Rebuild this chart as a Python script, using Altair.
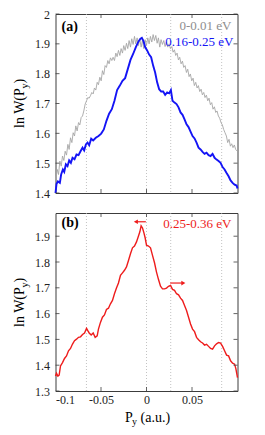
import altair as alt
import pandas as pd

FONT = "Liberation Serif, Times New Roman, serif"
W = 182
H_A = 179
H_B = 178

x_domain = [-0.1, 0.1]
x_tick_labels = [-0.1, -0.05, 0, 0.05]
x_frame_ticks = [-0.05, 0, 0.05]
y_domain_a = [1.4, 2.0]
y_ticks_a = [1.4, 1.5, 1.6, 1.7, 1.8, 1.9, 2.0]
y_domain_b = [1.3, 1.99]
y_ticks_b = [1.3, 1.4, 1.5, 1.6, 1.7, 1.8, 1.9]
guide_lines = [-0.066, 0.0, 0.0266, 0.0826]

gray_points = [
    (-0.0996, 1.445), (-0.0981, 1.479), (-0.0967, 1.462), (-0.0952, 1.507), (-0.0937, 1.490),
    (-0.0923, 1.524), (-0.0908, 1.509), (-0.0894, 1.540), (-0.0879, 1.527), (-0.0864, 1.563),
    (-0.0850, 1.546), (-0.0835, 1.585), (-0.0820, 1.569), (-0.0806, 1.602), (-0.0791, 1.591),
    (-0.0777, 1.625), (-0.0762, 1.608), (-0.0747, 1.636), (-0.0733, 1.628), (-0.0718, 1.653),
    (-0.0703, 1.658), (-0.0689, 1.675), (-0.0674, 1.698), (-0.0659, 1.709), (-0.0645, 1.720),
    (-0.0630, 1.718), (-0.0616, 1.726), (-0.0601, 1.737), (-0.0586, 1.732), (-0.0572, 1.752),
    (-0.0557, 1.745), (-0.0542, 1.771), (-0.0528, 1.763), (-0.0513, 1.788), (-0.0498, 1.776),
    (-0.0484, 1.810), (-0.0469, 1.797), (-0.0455, 1.827), (-0.0440, 1.821), (-0.0425, 1.844),
    (-0.0411, 1.833), (-0.0396, 1.853), (-0.0381, 1.844), (-0.0367, 1.855), (-0.0352, 1.844),
    (-0.0337, 1.869), (-0.0323, 1.857), (-0.0308, 1.878), (-0.0293, 1.861), (-0.0279, 1.884),
    (-0.0264, 1.869), (-0.0250, 1.894), (-0.0235, 1.878), (-0.0220, 1.902), (-0.0206, 1.884),
    (-0.0191, 1.911), (-0.0176, 1.889), (-0.0162, 1.917), (-0.0147, 1.898), (-0.0132, 1.925),
    (-0.0118, 1.900), (-0.0103, 1.920), (-0.0089, 1.894), (-0.0074, 1.917), (-0.0059, 1.889),
    (-0.0045, 1.911), (-0.0030, 1.884), (-0.0015, 1.914), (-0.0001, 1.894), (0.0014, 1.920),
    (0.0029, 1.900), (0.0043, 1.925), (0.0058, 1.906), (0.0073, 1.931), (0.0087, 1.911),
    (0.0102, 1.928), (0.0117, 1.902), (0.0131, 1.920), (0.0146, 1.889), (0.0160, 1.914),
    (0.0175, 1.898), (0.0190, 1.911), (0.0204, 1.891), (0.0219, 1.906), (0.0234, 1.889),
    (0.0248, 1.900), (0.0263, 1.884), (0.0278, 1.891), (0.0292, 1.872), (0.0307, 1.880),
    (0.0321, 1.861), (0.0336, 1.869), (0.0351, 1.846), (0.0365, 1.855), (0.0380, 1.833),
    (0.0395, 1.842), (0.0409, 1.821), (0.0424, 1.827), (0.0439, 1.804), (0.0453, 1.815),
    (0.0468, 1.790), (0.0482, 1.799), (0.0497, 1.776), (0.0512, 1.785), (0.0526, 1.760),
    (0.0541, 1.771), (0.0556, 1.752), (0.0570, 1.760), (0.0585, 1.740), (0.0600, 1.748),
    (0.0614, 1.729), (0.0629, 1.737), (0.0643, 1.720), (0.0658, 1.728), (0.0673, 1.709),
    (0.0687, 1.718), (0.0702, 1.696), (0.0717, 1.703), (0.0731, 1.681), (0.0746, 1.689),
    (0.0761, 1.670), (0.0775, 1.675), (0.0790, 1.658), (0.0804, 1.651), (0.0819, 1.636),
    (0.0834, 1.628), (0.0848, 1.613), (0.0863, 1.602), (0.0878, 1.591), (0.0892, 1.569),
    (0.0907, 1.580), (0.0922, 1.557), (0.0936, 1.565), (0.0951, 1.552), (0.0965, 1.561),
    (0.0980, 1.546), (0.0998, 1.540),
]

blue_points = [
    (-0.1000, 1.400), (-0.0989, 1.430), (-0.0974, 1.439), (-0.0952, 1.434), (-0.0938, 1.462),
    (-0.0919, 1.479), (-0.0904, 1.471), (-0.0886, 1.496), (-0.0868, 1.490), (-0.0850, 1.509),
    (-0.0831, 1.501), (-0.0813, 1.518), (-0.0791, 1.513), (-0.0769, 1.529), (-0.0747, 1.527),
    (-0.0725, 1.540), (-0.0703, 1.552), (-0.0685, 1.543), (-0.0666, 1.563), (-0.0648, 1.569),
    (-0.0630, 1.560), (-0.0608, 1.582), (-0.0586, 1.576), (-0.0557, 1.585), (-0.0527, 1.591),
    (-0.0498, 1.599), (-0.0469, 1.613), (-0.0440, 1.642), (-0.0411, 1.666), (-0.0381, 1.681),
    (-0.0352, 1.709), (-0.0323, 1.745), (-0.0293, 1.760), (-0.0264, 1.776), (-0.0235, 1.785),
    (-0.0205, 1.816), (-0.0176, 1.846), (-0.0147, 1.866), (-0.0117, 1.889), (-0.0088, 1.908),
    (-0.0066, 1.917), (-0.0051, 1.920), (-0.0033, 1.909), (-0.0015, 1.889), (0.0007, 1.878),
    (0.0029, 1.864), (0.0051, 1.855), (0.0073, 1.827), (0.0095, 1.804), (0.0117, 1.771),
    (0.0139, 1.748), (0.0161, 1.740), (0.0183, 1.740), (0.0205, 1.729), (0.0227, 1.737),
    (0.0249, 1.734), (0.0268, 1.745), (0.0286, 1.709), (0.0308, 1.703), (0.0330, 1.698),
    (0.0352, 1.687), (0.0374, 1.670), (0.0396, 1.662), (0.0418, 1.647), (0.0440, 1.630),
    (0.0462, 1.621), (0.0484, 1.606), (0.0506, 1.591), (0.0528, 1.583), (0.0550, 1.569),
    (0.0572, 1.552), (0.0594, 1.546), (0.0616, 1.538), (0.0638, 1.531), (0.0660, 1.535),
    (0.0682, 1.527), (0.0704, 1.524), (0.0726, 1.531), (0.0748, 1.518), (0.0770, 1.512),
    (0.0792, 1.507), (0.0814, 1.501), (0.0836, 1.487), (0.0858, 1.479), (0.0880, 1.467),
    (0.0902, 1.456), (0.0924, 1.442), (0.0946, 1.434), (0.0968, 1.428), (0.0990, 1.425),
    (0.1000, 1.415),
]

red_points = [
    (-0.1000, 1.358), (-0.0989, 1.369), (-0.0974, 1.358), (-0.0960, 1.362), (-0.0945, 1.397),
    (-0.0923, 1.410), (-0.0901, 1.426), (-0.0879, 1.436), (-0.0857, 1.456), (-0.0835, 1.465),
    (-0.0813, 1.482), (-0.0791, 1.495), (-0.0769, 1.501), (-0.0747, 1.508), (-0.0725, 1.510),
    (-0.0703, 1.519), (-0.0681, 1.525), (-0.0659, 1.543), (-0.0645, 1.534), (-0.0630, 1.525),
    (-0.0608, 1.517), (-0.0586, 1.525), (-0.0564, 1.508), (-0.0542, 1.514), (-0.0528, 1.540),
    (-0.0506, 1.566), (-0.0484, 1.586), (-0.0462, 1.595), (-0.0440, 1.616), (-0.0418, 1.621),
    (-0.0396, 1.638), (-0.0374, 1.651), (-0.0352, 1.677), (-0.0330, 1.699), (-0.0308, 1.719),
    (-0.0286, 1.748), (-0.0264, 1.758), (-0.0242, 1.768), (-0.0220, 1.781), (-0.0198, 1.806),
    (-0.0176, 1.832), (-0.0154, 1.855), (-0.0132, 1.862), (-0.0110, 1.878), (-0.0088, 1.901),
    (-0.0073, 1.917), (-0.0059, 1.940), (-0.0044, 1.932), (-0.0029, 1.914), (-0.0015, 1.894),
    (0.0000, 1.865), (0.0022, 1.862), (0.0044, 1.855), (0.0066, 1.826), (0.0088, 1.797),
    (0.0110, 1.761), (0.0132, 1.732), (0.0154, 1.706), (0.0176, 1.696), (0.0198, 1.696),
    (0.0220, 1.699), (0.0242, 1.706), (0.0264, 1.709), (0.0286, 1.694), (0.0308, 1.690),
    (0.0330, 1.677), (0.0352, 1.673), (0.0374, 1.660), (0.0396, 1.651), (0.0418, 1.631),
    (0.0440, 1.612), (0.0462, 1.586), (0.0484, 1.560), (0.0506, 1.540), (0.0528, 1.530),
    (0.0550, 1.508), (0.0572, 1.499), (0.0594, 1.491), (0.0616, 1.486), (0.0638, 1.478),
    (0.0660, 1.481), (0.0682, 1.473), (0.0704, 1.465), (0.0726, 1.462), (0.0748, 1.475),
    (0.0770, 1.483), (0.0792, 1.488), (0.0814, 1.486), (0.0836, 1.473), (0.0858, 1.456),
    (0.0880, 1.439), (0.0902, 1.436), (0.0924, 1.417), (0.0946, 1.408), (0.0968, 1.404),
    (0.0982, 1.387), (0.1000, 1.352),
]

# arrows in panel (b): start x, end x, y, direction
arrow_start = [-0.0007, 0.0261]
arrow_end = [-0.0117, 0.0405]
arrow_y = [1.956, 1.7185]
arrow_dir = ["l", "r"]

GRAY = "#a6a6a6"
BLUE = "#1414f5"
RED = "#ee1c1c"
FRAME = "#3c3c3c"

xs = alt.Scale(domain=x_domain, nice=False, zero=False)
LABEL_EXPR = "replace(format(datum.value, '~g'), '\u2212', '-')"


def text(t, x, y, size=13, color="black", align="left", angle=0, weight="normal"):
    return alt.Chart(pd.DataFrame({"t": [t]})).mark_text(
        align=align, baseline="middle", fontSize=size, font=FONT, color=color,
        angle=angle, fontWeight=weight
    ).encode(x=alt.value(x), y=alt.value(y), text="t:N")


def ylabel_layers():
    return [
        text("ln W(P", -36, 114, size=14, angle=270),
        text("y", -31, 74.5, size=10, angle=270),
        text(")", -36, 69.5, size=14, angle=270),
    ]


def panel(series, y_domain, y_ticks, H, show_x_labels, extra):
    ys = alt.Scale(domain=y_domain, nice=False, zero=False)
    xaxis = alt.Axis(values=x_tick_labels, labelExpr=LABEL_EXPR, ticks=False, domain=False,
                     grid=False, title=None, labels=show_x_labels, labelPadding=3,
                     labelFont=FONT, labelFontSize=12, labelColor="#222")
    yaxis = alt.Axis(values=y_ticks, labelExpr=LABEL_EXPR, ticks=False, domain=False,
                     grid=False, title=None, labelPadding=6,
                     labelFont=FONT, labelFontSize=12, labelColor="#222")

    guides = alt.Chart(pd.DataFrame({"g": guide_lines})).mark_rule(
        color="#b4b4b4", strokeDash=[1, 2], strokeWidth=0.8
    ).encode(x=alt.X("g:Q", scale=xs, axis=xaxis))

    layers = [guides]
    for pts, color, sw in series:
        df = pd.DataFrame(pts, columns=["x", "v"])
        layers.append(
            alt.Chart(df).mark_line(color=color, strokeWidth=sw).encode(
                x=alt.X("x:Q", scale=xs, axis=xaxis),
                y=alt.Y("v:Q", scale=ys, axis=yaxis),
            )
        )

    ydf = pd.DataFrame({"t": y_ticks})
    xdf = pd.DataFrame({"t": x_frame_ticks})
    tk = dict(color=FRAME, strokeWidth=0.8)
    layers += [
        alt.Chart(ydf).mark_rule(**tk).encode(y=alt.Y("t:Q", scale=ys, axis=yaxis), x=alt.value(0), x2=alt.value(4)),
        alt.Chart(ydf).mark_rule(**tk).encode(y=alt.Y("t:Q", scale=ys, axis=yaxis), x=alt.value(W - 4), x2=alt.value(W)),
        alt.Chart(xdf).mark_rule(**tk).encode(x=alt.X("t:Q", scale=xs, axis=xaxis), y=alt.value(0), y2=alt.value(4)),
        alt.Chart(xdf).mark_rule(**tk).encode(x=alt.X("t:Q", scale=xs, axis=xaxis), y=alt.value(H - 4), y2=alt.value(H)),
    ]
    layers += ylabel_layers()
    layers += extra(xs, ys, xaxis, yaxis)
    return alt.layer(*layers).properties(width=W, height=H)


def extra_a(xs, ys, xaxis, yaxis):
    return [
        text("(a)", 6, 12.5, size=14, weight="bold"),
        text("0-0.01 eV", 176, 11.5, size=13, color="#8e8e8e", align="right"),
        text("0.16-0.25 eV", 178, 28, size=13, color=BLUE, align="right"),
    ]


def extra_b(xs, ys, xaxis, yaxis):
    adf = pd.DataFrame({"x": arrow_start, "x2": arrow_end, "y": arrow_y, "d": arrow_dir})
    rules = alt.Chart(adf).mark_rule(color=RED, strokeWidth=1.2).encode(
        x=alt.X("x:Q", scale=xs, axis=xaxis), x2="x2:Q",
        y=alt.Y("y:Q", scale=ys, axis=yaxis),
    )
    heads = alt.Chart(adf).mark_point(filled=True, color=RED, size=22, opacity=1).encode(
        x=alt.X("x2:Q", scale=xs, axis=xaxis),
        y=alt.Y("y:Q", scale=ys, axis=yaxis),
        shape=alt.Shape("d:N", scale=alt.Scale(domain=["l", "r"], range=["triangle-left", "triangle-right"]), legend=None),
    )
    return [
        rules, heads,
        text("(b)", 6, 10, size=14, weight="bold"),
        text("0.25-0.36 eV", 176, 11, size=13, color=RED, align="right"),
        text("P", 69.5, H_B + 26.5, size=14),
        text("y", 76.5, H_B + 31, size=10),
        text("(a.u.)", 85, H_B + 26.5, size=14),
    ]


pa = panel([(gray_points, GRAY, 0.9), (blue_points, BLUE, 1.9)], y_domain_a, y_ticks_a, H_A, False, extra_a)
pb = panel([(red_points, RED, 1.4)], y_domain_b, y_ticks_b, H_B, True, extra_b)

chart = alt.vconcat(pa, pb, spacing=20, bounds="flush").properties(
    padding={"left": 3.5, "top": -1, "right": 5, "bottom": 0}
).configure_view(stroke=FRAME, strokeWidth=1)

chart.save("out.html", embed_options={"renderer": "svg", "actions": False})
